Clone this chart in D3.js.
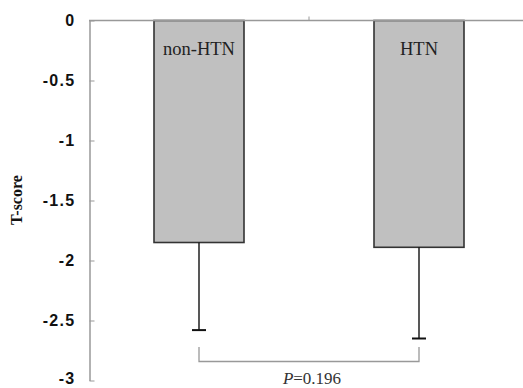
<!DOCTYPE html>
<html>
<head>
<meta charset="utf-8">
<script src="https://cdn.jsdelivr.net/npm/d3@7"></script>
<style>
  body { margin: 0; background: #fff; }
  svg { display: block; }
</style>
</head>
<body>
<div id="chart"></div>
<script>
// chart data
var groups = ["non-HTN", "HTN"];
var means = [-1.85, -1.89];
var sdLow = [-2.58, -2.65];   // end of lower error bar
var yTicks = [0, -0.5, -1, -1.5, -2, -2.5, -3];
var pText = "0.196";

var svgWidth = 523, svgHeight = 388;

var svg = d3.select("#chart").append("svg")
    .attr("width", svgWidth)
    .attr("height", svgHeight);

//scales
var yScale = d3.scaleLinear().domain([0, -3]).range([20.5, 380.5]);
var xScale = d3.scaleBand().domain(groups).range([89, 529]).paddingInner(0).paddingOuter(0);
var barW = 90;

//bars
svg.selectAll("rect.bar")
    .data(groups)
    .enter().append("rect")
    .attr("class", "bar")
    .attr("x", d => xScale(d) + xScale.bandwidth() / 2 - barW / 2)
    .attr("y", yScale(0))
    .attr("width", barW)
    .attr("height", (d, i) => yScale(means[i]) - yScale(0))
    .attr("fill", "#c0c0c0")
    .attr("stroke", "#333")
    .attr("stroke-width", 1.6);

//error bars
var err = svg.append("g").attr("stroke", "#111").attr("stroke-width", 1.4);
groups.forEach(function(g, i) {
    var cx = xScale(g) + xScale.bandwidth() / 2;
    err.append("line")
        .attr("x1", cx).attr("x2", cx)
        .attr("y1", yScale(means[i])).attr("y2", yScale(sdLow[i]));
    err.append("line")
        .attr("x1", cx - 7).attr("x2", cx + 7)
        .attr("y1", yScale(sdLow[i])).attr("y2", yScale(sdLow[i]))
        .attr("stroke-width", 2);
});

//y axis, ticks pointing inwards
var leftAxis = d3.axisLeft(yScale).tickValues(yTicks).tickSize(-5).tickSizeOuter(0).tickFormat(d => d === 0 ? "0" : String(d));
var yAxis = svg.append("g")
    .attr("transform", "translate(89.5,0)")
    .call(leftAxis);
yAxis.select(".domain").attr("stroke", "#999").attr("stroke-width", 1.5);
yAxis.selectAll(".tick line").attr("stroke", "#999");
yAxis.selectAll(".tick text")
    .attr("x", -14)
    .attr("y", d => d === -3 ? -2 : 0)   // keep the bottom label inside the frame
    .attr("dy", "0.33em")
    .attr("fill", "#111")
    .style("font-family", "'Liberation Sans', Arial, sans-serif")
    .style("font-weight", "bold")
    .style("font-size", "16px")
    .style("letter-spacing", "1.3px");

//x axis along zero line, one tick between the groups
var xAxisG = svg.append("g");
xAxisG.append("line")
    .attr("x1", 89).attr("x2", svgWidth)
    .attr("y1", yScale(0)).attr("y2", yScale(0))
    .attr("stroke", "#999").attr("stroke-width", 1.5);
xAxisG.append("line")
    .attr("x1", xScale(groups[1])).attr("x2", xScale(groups[1]))
    .attr("y1", yScale(0)).attr("y2", yScale(0) - 4)
    .attr("stroke", "#999").attr("stroke-width", 1);

//group labels inside bars
svg.selectAll("text.glabel")
    .data(groups)
    .enter().append("text")
    .attr("class", "glabel")
    .attr("x", d => xScale(d) + xScale.bandwidth() / 2)
    .attr("y", 55)
    .attr("text-anchor", "middle")
    .style("font-family", "'Liberation Serif', 'Times New Roman', serif")
    .style("font-size", "18.5px")
    .attr("fill", "#222")
    .text(d => d);

//y title
svg.append("text")
    .attr("transform", "translate(22,200) rotate(-90)")
    .attr("text-anchor", "middle")
    .style("font-family", "'Liberation Serif', 'Times New Roman', serif")
    .style("font-weight", "bold")
    .style("font-size", "16px")
    .attr("fill", "#111")
    .text("T-score");

//significance bracket
var c0 = xScale(groups[0]) + xScale.bandwidth() / 2;
var c1 = xScale(groups[1]) + xScale.bandwidth() / 2;
var bTop = 347, bBot = 361.5;
svg.append("path")
    .attr("d", `M${c0},${bTop}V${bBot}H${c1}V${bTop}`)
    .attr("fill", "none")
    .attr("stroke", "#999")
    .attr("stroke-width", 1.3);

var pLabel = svg.append("text")
    .attr("x", (c0 + c1) / 2 + 3)
    .attr("y", 384)
    .attr("text-anchor", "middle")
    .style("font-family", "'Liberation Serif', 'Times New Roman', serif")
    .style("font-size", "17px")
    .attr("fill", "#333");
pLabel.append("tspan").style("font-style", "italic").text("P");
pLabel.append("tspan").text("=" + pText);
</script>
</body>
</html>
